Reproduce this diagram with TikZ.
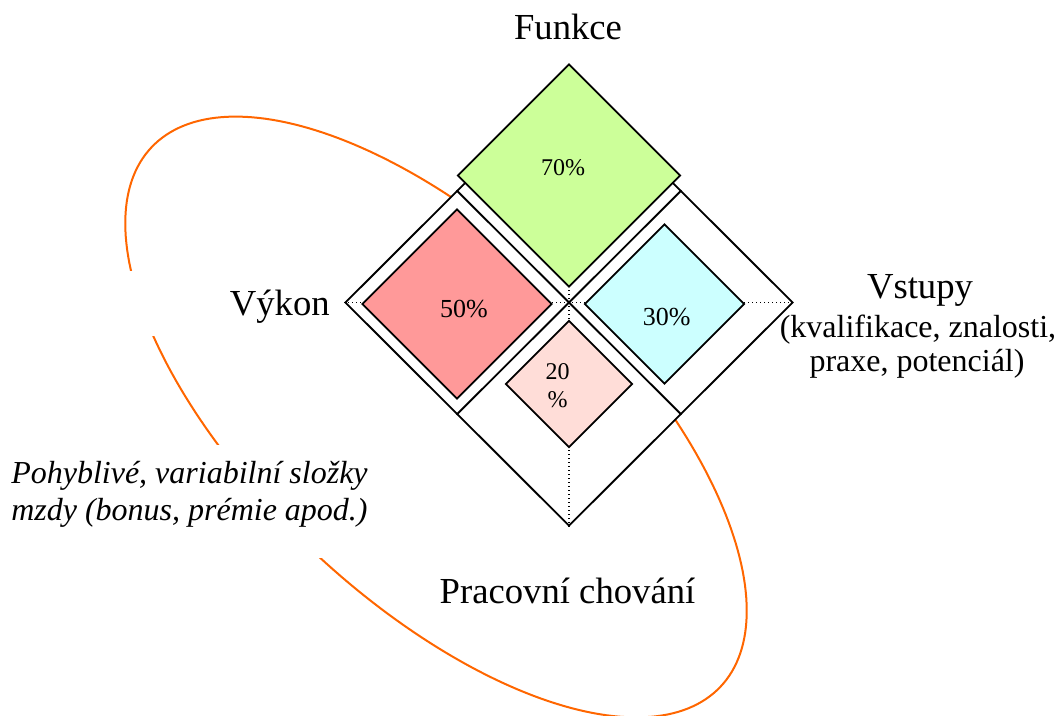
\documentclass[tikz,border=0pt]{standalone}
\usepackage{fontspec}
\setmainfont{Liberation Serif}
\usetikzlibrary{shapes.geometric,calc}
\definecolor{ellorange}{HTML}{FF6600}
\definecolor{fillgreen}{HTML}{CCFF99}
\definecolor{fillred}{HTML}{FF9999}
\definecolor{fillcyan}{HTML}{CCFFFF}
\definecolor{fillpink}{HTML}{FFDDD8}
\begin{document}
\begin{tikzpicture}[x=0.75pt,y=-0.75pt,
  dia/.style={shape=diamond, draw=black, line width=1.4pt, inner sep=0pt, aspect=1},
  quadbox/.style={dia, fill=white},
  lbl/.style={font=\fontsize{27.5}{33}\selectfont, inner sep=0pt},
  sublbl/.style={font=\fontsize{24}{28}\selectfont, inner sep=0pt},
  notetext/.style={font=\fontsize{24}{28}\selectfont\itshape, inner sep=0pt},
  pct/.style={font=\fontsize{19.5}{23}\selectfont, inner sep=0pt},
  pcts/.style={font=\fontsize{18}{21}\selectfont, inner sep=0pt, align=center},
  guide/.style={line width=1pt, dash pattern=on 1pt off 2pt},
  ring/.style={draw=ellorange, line width=1.5pt, line join=round}
]
\useasboundingbox (0,0) rectangle (1061,715);

% orange ellipse (partly hidden behind text boxes and the diamond)
\draw[ring] plot[variable=\t, domain=0:360, samples=241]
  ({436+284.36*cos(\t)-125.29*sin(\t)}, {417+269.85*cos(\t)+132.02*sin(\t)});

% white text boxes hiding the ellipse
\fill[white] (128,271) rectangle (336,336);
\fill[white] (0,445) rectangle (372,558);

% big diamond divided into quarters
\node[quadbox, minimum width=336pt, minimum height=335.25pt] (outer) at (569,302.5) {};
\coordinate (nw) at ($(outer.north)!0.5!(outer.west)$);
\coordinate (ne) at ($(outer.north)!0.5!(outer.east)$);
\coordinate (sw) at ($(outer.south)!0.5!(outer.west)$);
\coordinate (se) at ($(outer.south)!0.5!(outer.east)$);
\draw[line width=1.4pt] (nw) -- (se);
\draw[line width=1.4pt] (ne) -- (sw);

% dotted axes
\draw[guide] (outer.west) -- (outer.east);
\draw[guide] (outer.north) -- (outer.south);

% coloured diamonds
\node[dia, fill=fillred, minimum size=142.5pt] (dred) at (457,304) {};
\node[dia, fill=fillcyan, minimum size=120pt] (dcyan) at (664.5,304) {};
\node[dia, fill=fillpink, minimum size=95.25pt] (dpink) at (569,384) {};
\node[dia, fill=fillgreen, minimum size=167.25pt] (dgreen) at (569,175.5) {};

% percentages
\node[pcts] (t70) at (563,168) {70\%};
\node[pct] (t50) at (464,309) {50\%};
\node[pct] (t30) at (666.7,317) {30\%};
\node[pcts] (t20) at (557.5,386) {20\\\%};

% labels
\node[lbl, anchor=base] (funkce) at (568,39) {Funkce};
\node[lbl, anchor=base east] (vykon) at (330,315) {Výkon};
\node[lbl, anchor=base] (vstupy) at (920,298) {Vstupy};
\node[sublbl, anchor=base] (vsta) at (918,337) {(kvalifikace, znalosti,};
\node[sublbl, anchor=base] (vstb) at (917,371) {praxe, potenciál)};
\node[lbl, anchor=base] (prac) at (567.5,603) {Pracovní chování};
\node[notetext, anchor=base west] (poha) at (11,483) {Pohyblivé, variabilní složky};
\node[notetext, anchor=base west] (pohb) at (11,520) {mzdy (bonus, prémie apod.)};
\end{tikzpicture}
\end{document}
